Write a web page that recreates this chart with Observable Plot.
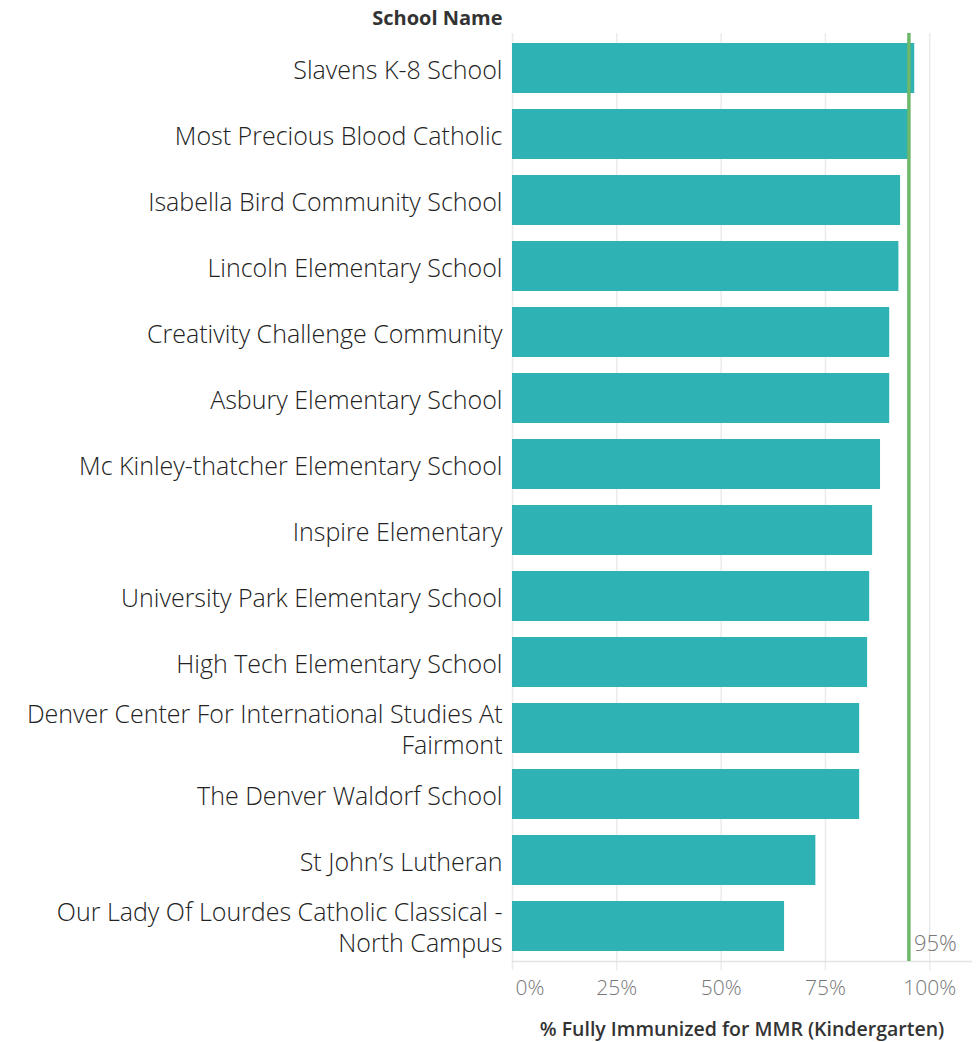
<!DOCTYPE html>
<html>
<head>
<meta charset="utf-8">
<script src="https://cdn.jsdelivr.net/npm/d3@7"></script>
<script src="https://cdn.jsdelivr.net/npm/@observablehq/plot@0.6"></script>
<style>
  html, body { margin: 0; padding: 0; background: #fff; }
  #chart { width: 977px; height: 1042px; }
</style>
</head>
<body>
<div id="chart"></div>
<script>
const schools = [
  "Slavens K-8 School",
  "Most Precious Blood Catholic",
  "Isabella Bird Community School",
  "Lincoln Elementary School",
  "Creativity Challenge Community",
  "Asbury Elementary School",
  "Mc Kinley-thatcher Elementary School",
  "Inspire Elementary",
  "University Park Elementary School",
  "High Tech Elementary School",
  "Denver Center For International Studies At Fairmont",
  "The Denver Waldorf School",
  "St John’s Lutheran",
  "Our Lady Of Lourdes Catholic Classical - North Campus"
];
const values = [96.4, 94.9, 93.0, 92.6, 90.4, 90.4, 88.2, 86.3, 85.6, 85.1, 83.2, 83.2, 72.7, 65.2];
const wrappedLabels = {
  "Denver Center For International Studies At Fairmont": "Denver Center For International Studies At\nFairmont",
  "Our Lady Of Lourdes Catholic Classical - North Campus": "Our Lady Of Lourdes Catholic Classical -\nNorth Campus"
};
const xTicks = [0, 25, 50, 75, 100];
const targetValue = [95];
const targetLabel = "95%";
const xTitle = "% Fully Immunized for MMR (Kindergarten)";
const yTitle = "School Name";

const data = schools.map((s, i) => ({school: s, value: values[i]}));

const font = "'Open Sans', 'Noto Sans', sans-serif";

const chart = Plot.plot({
  width: 977,
  height: 1042,
  marginLeft: 512,
  marginRight: 6,
  marginTop: 33,
  marginBottom: 81,
  style: {fontFamily: font, background: "#fff"},
  x: {domain: [0, 110], axis: null},
  y: {domain: schools, paddingInner: 0.245, paddingOuter: 0.12, axis: null},
  marks: [
    Plot.ruleX(xTicks, {stroke: "#ebebeb", strokeWidth: 1.5, insetTop: 0, insetBottom: -9}),
    Plot.frame({anchor: "bottom", stroke: "#e4e4e4", strokeWidth: 1.5}),
    Plot.barX(data, {x: "value", y: "school", fill: "#2fb2b3"}),
    Plot.ruleX(targetValue, {stroke: "#6db86b", strokeWidth: 3.5}),
    Plot.text(targetValue, {x: d => d, text: () => targetLabel, frameAnchor: "bottom", textAnchor: "start", dx: 5, dy: -11, fill: "#777", fontSize: 22, fontWeight: 300}),
    Plot.axisY({
      tickSize: 0, tickPadding: 10, label: null,
      tickFormat: d => wrappedLabels[d] || d,
      fontSize: 25, fontWeight: 300, fill: "#222", lineHeight: 1.25
    }),
    Plot.text(xTicks.filter(d => d === 0), {x: d => d, text: d => d + "%", frameAnchor: "bottom", textAnchor: "start", dx: 3, dy: 33, fill: "#777", fontSize: 21, fontWeight: 300}),
    Plot.text(xTicks.filter(d => d !== 0), {x: d => d, text: d => d + "%", frameAnchor: "bottom", dy: 33, fill: "#777", fontSize: 21, fontWeight: 300}),
    Plot.text([xTitle], {frameAnchor: "bottom", dy: 74, fill: "#333", fontSize: 19.5, fontWeight: 600}),
    Plot.text([yTitle], {frameAnchor: "top-left", dx: -10, dy: -23, textAnchor: "end", fill: "#333", fontSize: 20, fontWeight: 700})
  ]
});
document.getElementById("chart").appendChild(chart);
</script>
</body>
</html>
